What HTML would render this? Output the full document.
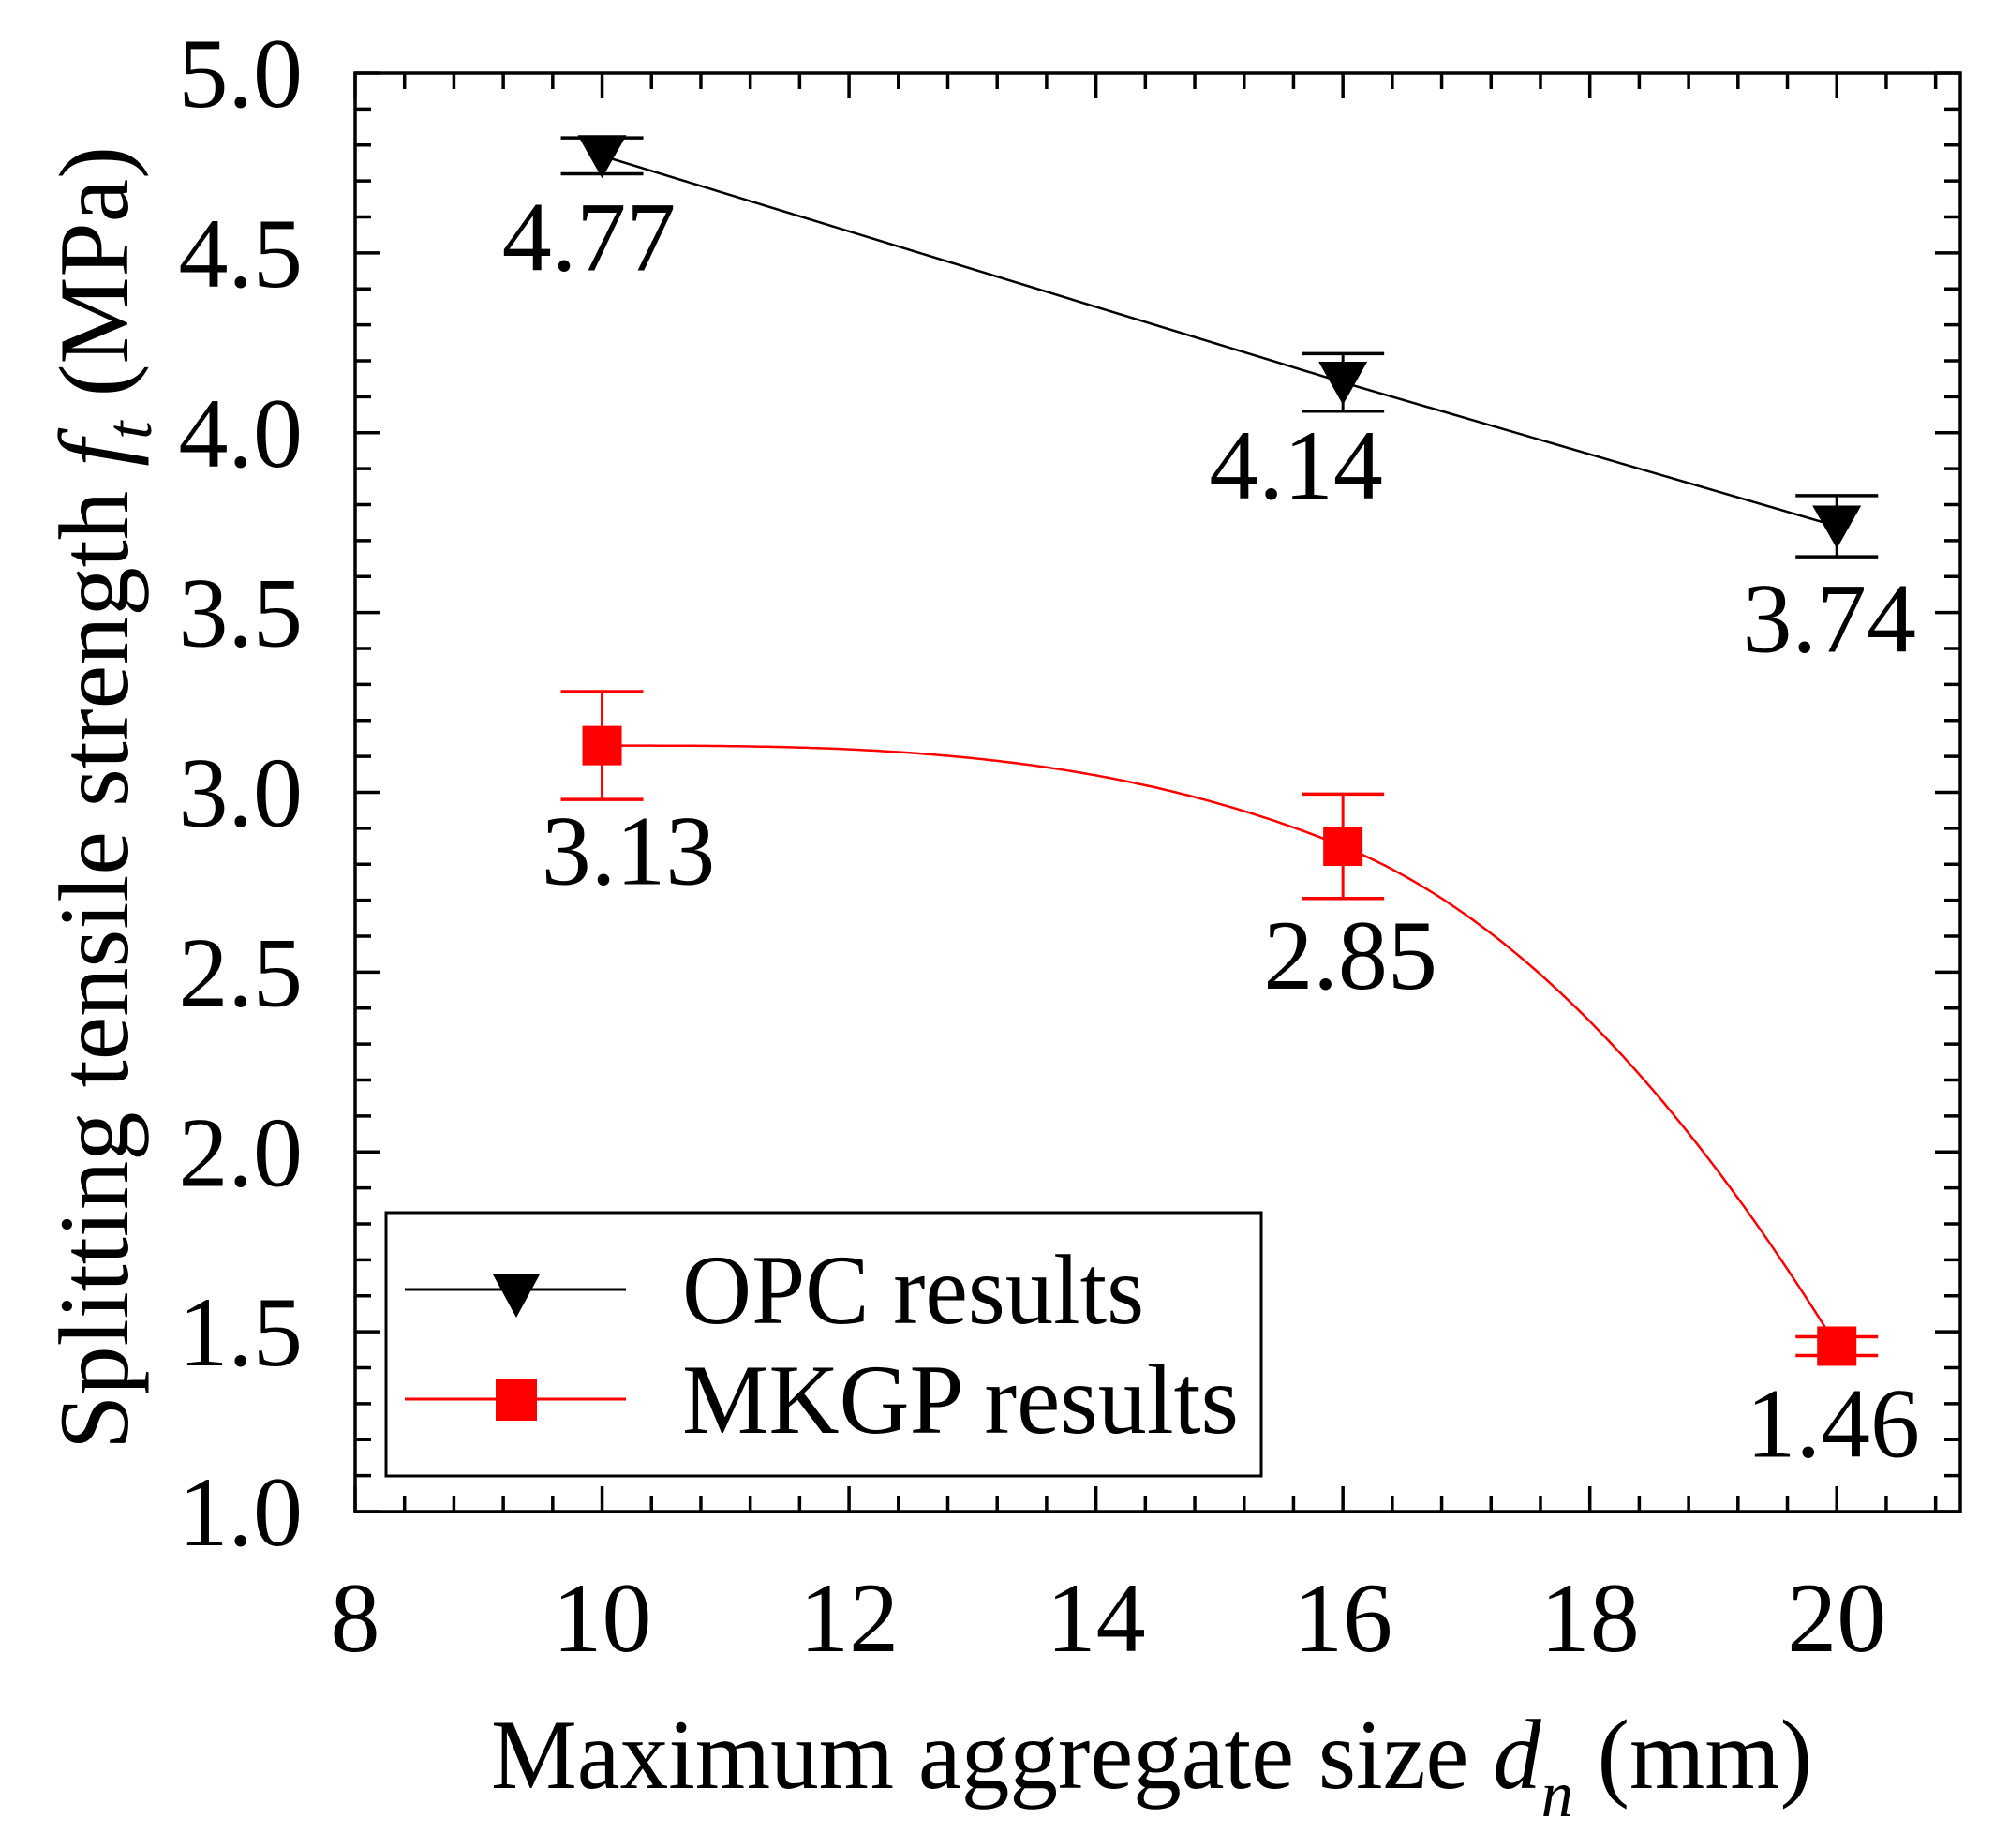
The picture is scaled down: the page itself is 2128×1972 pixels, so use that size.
<!DOCTYPE html>
<html><head><meta charset="utf-8"><style>
html,body{margin:0;padding:0;background:#fff;}
svg{display:block;}
text{font-family:"Liberation Serif",serif;fill:#000;}
</style></head><body>
<svg id="chart" width="2128" height="1972" viewBox="0 0 2128 1972" xmlns="http://www.w3.org/2000/svg">
<g id="ticks"></g>
<g id="labels"></g>
<g id="series"></g>
<rect x="379" y="78" width="1713" height="1535" fill="none" stroke="#000" stroke-width="3.5"/>
<text x="524" y="1908" font-size="106" textLength="1410" lengthAdjust="spacingAndGlyphs">Maximum aggregate size <tspan font-style="italic">d</tspan><tspan font-style="italic" font-size="70" dy="30">n</tspan><tspan dy="-30"> (mm)</tspan></text>
<text transform="translate(136,1547) rotate(-90)" x="0" y="0" font-size="106" textLength="1391" lengthAdjust="spacingAndGlyphs">Splitting tensile strength <tspan font-style="italic">f</tspan><tspan font-style="italic" font-size="70" dy="25">t</tspan><tspan dy="-25"> (MPa)</tspan></text>
<g>
<rect x="412" y="1294" width="934" height="281" fill="#fff" stroke="#000" stroke-width="3"/>
<g>
<line x1="432" y1="1376" x2="668" y2="1376" stroke="#000" stroke-width="3"/>
<polygon points="526,1360 576,1360 551,1406" fill="#000"/>
<text x="728" y="1412" font-size="106" textLength="493" lengthAdjust="spacingAndGlyphs">OPC results</text>
</g>
<g>
<line x1="432" y1="1493" x2="668" y2="1493" stroke="#f00" stroke-width="3"/>
<rect x="529" y="1472" width="44" height="44" fill="#f00"/>
<text x="728" y="1529" font-size="106" textLength="594" lengthAdjust="spacingAndGlyphs">MKGP results</text>
</g>
</g>
</svg>
<script>
const sizes = [10, 16, 20];
const opcValues = [4.77, 4.14, 3.74];
const opcErrors = [0.05, 0.08, 0.085];
const mkgpValues = [3.13, 2.85, 1.46];
const mkgpErrors = [0.15, 0.145, 0.026];
const xTicks = [8, 10, 12, 14, 16, 18, 20];
const yTicks = [1.0, 1.5, 2.0, 2.5, 3.0, 3.5, 4.0, 4.5, 5.0];

const X0 = 379, X1 = 2092, Y0 = 1613, Y1 = 78;
const xMin = 8, xMax = 21, yMin = 1, yMax = 5;
function sx(v){ return X0 + (v - xMin) / (xMax - xMin) * (X1 - X0); }
function sy(v){ return Y0 - (v - yMin) / (yMax - yMin) * (Y0 - Y1); }
const NS = "http://www.w3.org/2000/svg";
function mk(tag, attrs, parent){
  const e = document.createElementNS(NS, tag);
  for (const k in attrs) e.setAttribute(k, attrs[k]);
  parent.appendChild(e);
  return e;
}
const ticksG = document.getElementById('ticks');
const labelsG = document.getElementById('labels');
const seriesG = document.getElementById('series');

for (let i = 0; i <= 32; i++) {
  const v = xMin + i * 0.4;
  if (v > xMax + 1e-6) break;
  const major = i % 5 === 0;
  const L = major ? 27 : 17;
  const x = sx(v);
  const t1 = mk('line', {x1:x, y1:Y0, x2:x, y2:Y0 - L, stroke:'#000', 'stroke-width':3.5}, ticksG);
  
  
  const t2 = mk('line', {x1:x, y1:Y1, x2:x, y2:Y1 + L, stroke:'#000', 'stroke-width':3.5}, ticksG);
  
  
}
for (let i = 0; i <= 40; i++) {
  const v = yMin + i * 0.1;
  const major = i % 5 === 0;
  const L = major ? 27 : 17;
  const y = sy(v);
  const t1 = mk('line', {x1:X0, y1:y, x2:X0 + L, y2:y, stroke:'#000', 'stroke-width':3.5}, ticksG);
  
  
  const t2 = mk('line', {x1:X1, y1:y, x2:X1 - L, y2:y, stroke:'#000', 'stroke-width':3.5}, ticksG);
  
  
}
xTicks.forEach(v => {
  const t = mk('text', {x:sx(v), y:1762, 'font-size':106, 'text-anchor':'middle'}, labelsG);
  t.textContent = String(v);
  
  
});
yTicks.forEach(v => {
  const t = mk('text', {x:323, y:sy(v) + 36, 'font-size':106, 'text-anchor':'end'}, labelsG);
  t.textContent = v.toFixed(1);
  
  
});

const opcPts = sizes.map((s, i) => sx(s) + ',' + sy(opcValues[i])).join(' ');
const opcLine = mk('polyline', {points:opcPts, fill:'none', stroke:'#000', 'stroke-width':2.5}, seriesG);



function hermiteCurve(xs, ys){
  const m = xs.map((x, i) => {
    if (i === 0) return 0;
    if (i === xs.length - 1) return (ys[i]-ys[i-1])/(xs[i]-xs[i-1]) * 1.6;
    const left = (ys[i]-ys[i-1])/(xs[i]-xs[i-1]);
    const c = (ys[i+1]-ys[i-1])/(xs[i+1]-xs[i-1]);
    // limit to avoid overshoot in the flat segment
    return Math.max(c, 3 * left);
  });
  return function(x){
    let j = 0;
    while (j < xs.length - 2 && x > xs[j+1]) j++;
    const hh = xs[j+1]-xs[j], t = (x - xs[j])/hh;
    const h00 = 2*t*t*t-3*t*t+1, h10 = t*t*t-2*t*t+t, h01 = -2*t*t*t+3*t*t, h11 = t*t*t-t*t;
    return h00*ys[j] + h10*hh*m[j] + h01*ys[j+1] + h11*hh*m[j+1];
  };
}
const f = hermiteCurve(sizes, mkgpValues);
let dstr = '';
const N = 200;
for (let i = 0; i <= N; i++) {
  const x = sizes[0] + (sizes[sizes.length-1] - sizes[0]) * i / N;
  dstr += (i ? 'L' : 'M') + sx(x).toFixed(1) + ',' + sy(f(x)).toFixed(1);
}
const mkLine = mk('path', {d:dstr, fill:'none', stroke:'#f00', 'stroke-width':2.5}, seriesG);



function errorBar(x, v, e, color, name){
  const g = mk('g', {}, seriesG);
  
  
  const cx = sx(x), yt = sy(v + e), yb = sy(v - e);
  mk('line', {x1:cx, y1:yt, x2:cx, y2:yb, stroke:color, 'stroke-width':3}, g);
  mk('line', {x1:cx-44, y1:yt, x2:cx+44, y2:yt, stroke:color, 'stroke-width':3.5}, g);
  mk('line', {x1:cx-44, y1:yb, x2:cx+44, y2:yb, stroke:color, 'stroke-width':3.5}, g);
}
const opcLabelDx = [-14, -50, -8];
const opcLabelDy = [122, 124, 134];
sizes.forEach((s, i) => {
  errorBar(s, opcValues[i], opcErrors[i], '#000', 'opc-error-bar');
  const cx = sx(s), cy = sy(opcValues[i]);
  const m = mk('polygon', {points:`${cx-26},${cy-22} ${cx+26},${cy-22} ${cx},${cy+24}`, fill:'#000'}, seriesG);
  
  
  const t = mk('text', {x:cx + opcLabelDx[i], y:cy + opcLabelDy[i], 'font-size':106, 'text-anchor':'middle'}, seriesG);
  t.textContent = opcValues[i].toFixed(2);
  
  
});
const mkLabelDx = [28, 8, -4];
const mkLabelDy = [148, 152, 118];
sizes.forEach((s, i) => {
  errorBar(s, mkgpValues[i], mkgpErrors[i], '#f00', 'mkgp-error-bar');
  const cx = sx(s), cy = sy(mkgpValues[i]);
  const m = mk('rect', {x:cx-21, y:cy-21, width:42, height:42, fill:'#f00'}, seriesG);
  
  
  const t = mk('text', {x:cx + mkLabelDx[i], y:cy + mkLabelDy[i], 'font-size':106, 'text-anchor':'middle'}, seriesG);
  t.textContent = mkgpValues[i].toFixed(2);
  
  
});
</script>
</body></html>
